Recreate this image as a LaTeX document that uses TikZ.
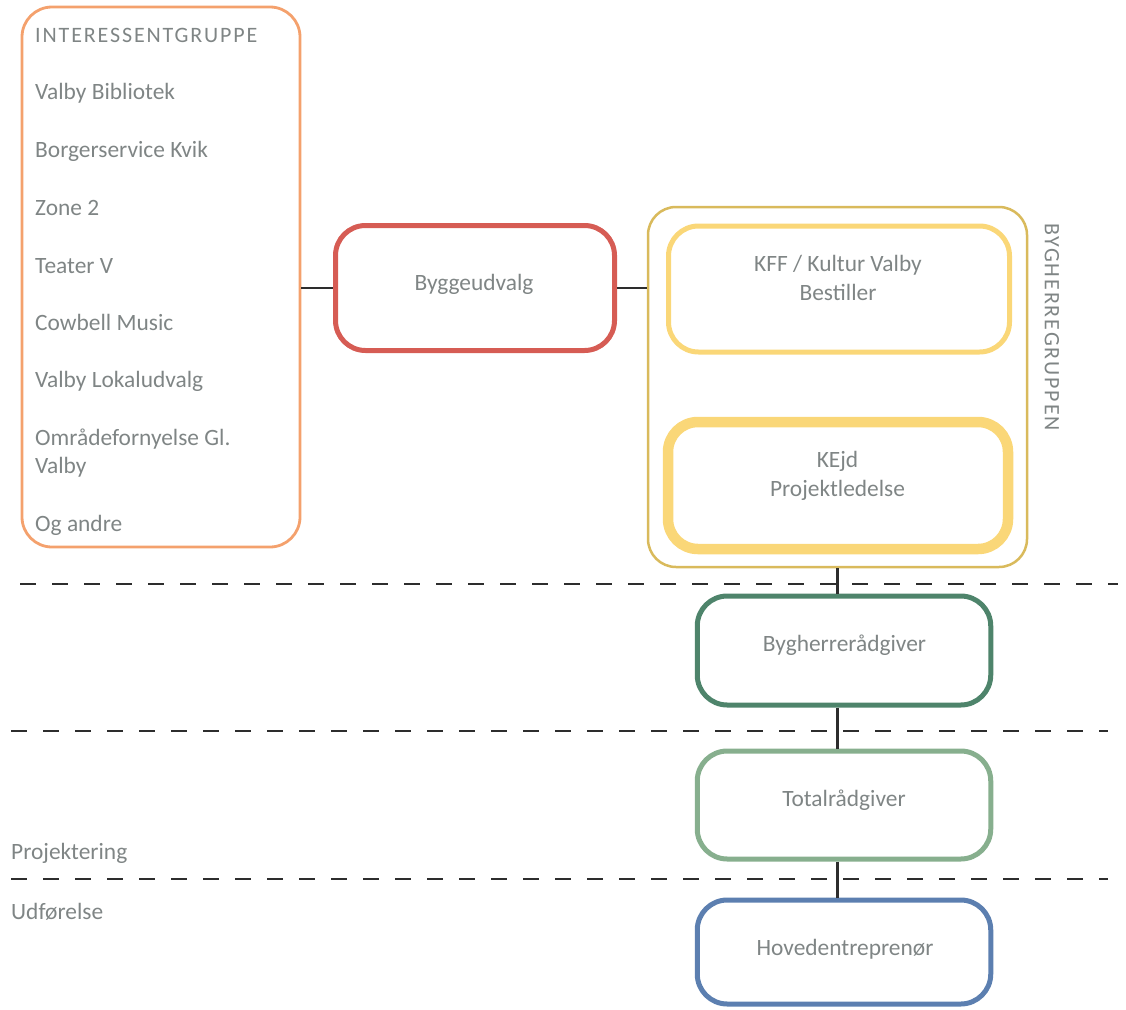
\documentclass[tikz,border=0pt]{standalone}
\usepackage{fontspec}
\setmainfont{Carlito}
\usepackage{tikz}

\definecolor{txtgray}{RGB}{127,133,133}
\definecolor{linegray}{RGB}{45,45,45}
\definecolor{igorange}{RGB}{244,161,109}
\definecolor{bured}{RGB}{214,92,84}
\definecolor{bggold}{RGB}{217,186,92}
\definecolor{bgyellow}{RGB}{250,215,120}
\definecolor{brgreen}{RGB}{78,132,107}
\definecolor{trgreen}{RGB}{135,175,142}
\definecolor{heblue}{RGB}{92,127,176}

\tikzset{
  box/.style={draw, rounded corners=30pt, inner sep=0pt},
  caps/.style={font=\fontsize{22}{26}\selectfont\addfontfeature{LetterSpace=8.5}},
  link/.style={draw=linegray, line width=2.2pt},
  phase/.style={draw=linegray, line width=2pt, dash pattern=on 16pt off 16pt}
}

\begin{document}
\begin{tikzpicture}[x=1pt, y=-1pt, every node/.style={text=txtgray, inner sep=0pt, font=\fontsize{23.4}{28.5}\selectfont}]
    \useasboundingbox (0,0) rectangle (1126,1009);
    % phase lines
    \draw [phase] (20,584) -- (1118,584);
    \draw [phase] (11,731) -- (1108,731);
    \draw [phase] (11,879) -- (1108,879);
    % boxes
    \node [box, draw=igorange, line width=2.8pt, minimum width=278pt, minimum height=540pt] (ig) at (161,277) {};
    \node [box, draw=bured, line width=5pt, minimum width=279pt, minimum height=125pt] (bu) at (475,288) {};
    \node [box, draw=bggold, line width=2.5pt, minimum width=379pt, minimum height=360pt, rounded corners=28pt] (bg) at (837.5,387) {};
    \node [box, draw=bgyellow, line width=5pt, minimum width=341pt, minimum height=126pt] (kff) at (839,289) {};
    \node [box, draw=bgyellow, line width=10.5pt, minimum width=340pt, minimum height=127pt] (kejd) at (838,485.5) {};
    \node [box, draw=brgreen, line width=5pt, minimum width=293.5pt, minimum height=109pt] (br) at (844,650.5) {};
    \node [box, draw=trgreen, line width=5pt, minimum width=293.5pt, minimum height=108pt] (tr) at (844,805) {};
    \node [box, draw=heblue, line width=5pt, minimum width=293.5pt, minimum height=104pt] (he) at (844,952) {};
    % texts
    \node [caps, anchor=base west] (ig0) at (35,42.5) {INTERESSENTGRUPPE};
    \node [anchor=base west] (ig1) at (35,99.5) {Valby Bibliotek};
    \node [anchor=base west] (ig2) at (35,157.5) {Borgerservice Kvik};
    \node [anchor=base west] (ig3) at (35,215.5) {Zone 2};
    \node [anchor=base west] (ig4) at (35,273.5) {Teater V};
    \node [anchor=base west] (ig5) at (35,330.5) {Cowbell Music};
    \node [anchor=base west] (ig6) at (35,387.5) {Valby Lokaludvalg};
    \node [anchor=base west, align=left] (ig7) at (35,473.5) {Områdefornyelse Gl.\\Valby};
    \node [anchor=base west] (ig8) at (35,531.5) {Og andre};
    \node [anchor=base] (bu0) at (474,290.5) {Byggeudvalg};
    \node [anchor=base, align=center] (kff0) at (838,300) {KFF / Kultur Valby\\Bestiller};
    \node [anchor=base, align=center] (kejd0) at (837.5,496) {KEjd\\Projektledelse};
    \node [caps, rotate=-90] (bg0) at (1052,327) {BYGHERREGRUPPEN};
    \node [anchor=base] (br0) at (844.5,651.5) {Bygherrerådgiver};
    \node [anchor=base] (tr0) at (844,806.5) {Totalrådgiver};
    \node [anchor=base] (he0) at (845,955) {Hovedentreprenør};
    \node [anchor=base west] (pr) at (11,859) {Projektering};
    \node [anchor=base west] (ud) at (11,919) {Udførelse};
    % connectors
    \draw [link] (ig.east |- bu.west) -- (bu.west);
    \draw [link] (bu.east) -- (bu.east -| bg.west);
    \draw [link] (bg.south) -- (bg.south |- br.north);
    \draw [link] (br.south -| bg.south) -- (tr.north -| bg.south);
    \draw [link] (tr.south -| bg.south) -- (he.north -| bg.south);
  \end{tikzpicture}
\end{document}
